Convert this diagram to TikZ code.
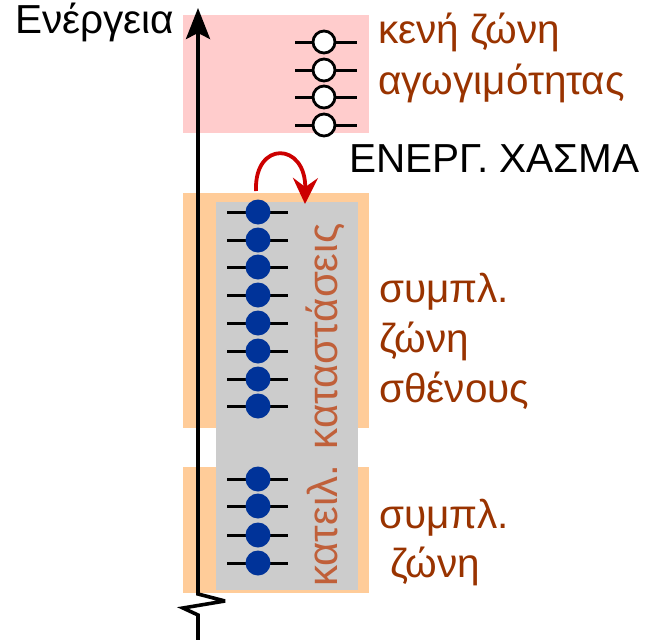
\documentclass[tikz,border=0pt]{standalone}
\usepackage{fontspec}
\setmainfont{Liberation Sans}
\usetikzlibrary{arrows.meta}
\definecolor{pinkband}{HTML}{FFCCCC}
\definecolor{orangeband}{HTML}{FFCC99}
\definecolor{grayband}{HTML}{CCCCCC}
\definecolor{dotblue}{HTML}{003399}
\definecolor{labelbrown}{HTML}{993300}
\definecolor{rotbrown}{HTML}{C0603A}
\definecolor{arrowred}{HTML}{CC0000}
\begin{document}
\begin{tikzpicture}[x=1pt,y=-1pt,
  level/.style={line width=3pt,black},
  emptystate/.style={circle,draw=black,line width=2.8pt,fill=white,minimum size=22pt,inner sep=0pt},
  fullstate/.style={circle,fill=dotblue,minimum size=25pt,inner sep=0pt},
  lbl/.style={font=\fontsize{40.5}{50}\selectfont,text=labelbrown,anchor=base west,inner sep=0pt},
  blacklbl/.style={font=\fontsize{40.5}{50}\selectfont,text=black,anchor=base west,inner sep=0pt},
  ]
\useasboundingbox (0,0) rectangle (646,640);
\fill[pinkband] (183,15) rectangle (369,133);
\fill[orangeband] (183,193) rectangle (369,428);
\fill[orangeband] (183,467) rectangle (369,593);
\fill[grayband] (216,202) rectangle (358,590);

\foreach \y [count=\i] in {42,70,97,125} {
  \draw[level] (295,\y) -- (357,\y);
  \node[emptystate] (e\i) at (324,\y) {};
}
\foreach \y [count=\i] in {212,240,267,295,323,351,379,406,479,506,535,563} {
  \draw[level] (227,\y) -- (288,\y);
  \node[fullstate] (f\i) at (258,\y) {};
}

\coordinate (axbot) at (198,640);
\coordinate (axtop) at (198,8);
\draw[line width=3.6pt,miter limit=4,-{Stealth[length=31pt,width=24pt,inset=6pt]}] (axbot) -- (198,615) -- (183,608) -- (225,601) -- (198,594) -- (axtop);

\coordinate (redstart) at (256,191);
\coordinate (redend) at (305,204);
\draw[arrowred,line width=3.8pt,-{Stealth[length=26pt,width=25pt,inset=9pt]}] (redstart) .. controls (254,140) and (306,142) .. (redend);

\node[blacklbl] (energy) at (15,33) {Ενέργεια};
\node[lbl] (cb1) at (378,43) {κενή ζώνη};
\node[lbl] (cb2) at (378,94) {αγωγιμότητας};
\node[blacklbl] (gap) at (349,172) {ΕΝΕΡΓ. ΧΑΣΜΑ};
\node[lbl] (vb1) at (379,302) {συμπλ.};
\node[lbl] (vb2) at (379,352) {ζώνη};
\node[lbl] (vb3) at (379,402) {σθένους};
\node[lbl] (lb1) at (379,528) {συμπλ.};
\node[lbl] (lb2) at (390,577) {ζώνη};
\node[rotate=90,anchor=base west,inner sep=0pt,text=rotbrown,font=\fontsize{42}{42}\selectfont] (dos) at (337,587) {κατειλ. καταστάσεις};
\end{tikzpicture}
\end{document}
